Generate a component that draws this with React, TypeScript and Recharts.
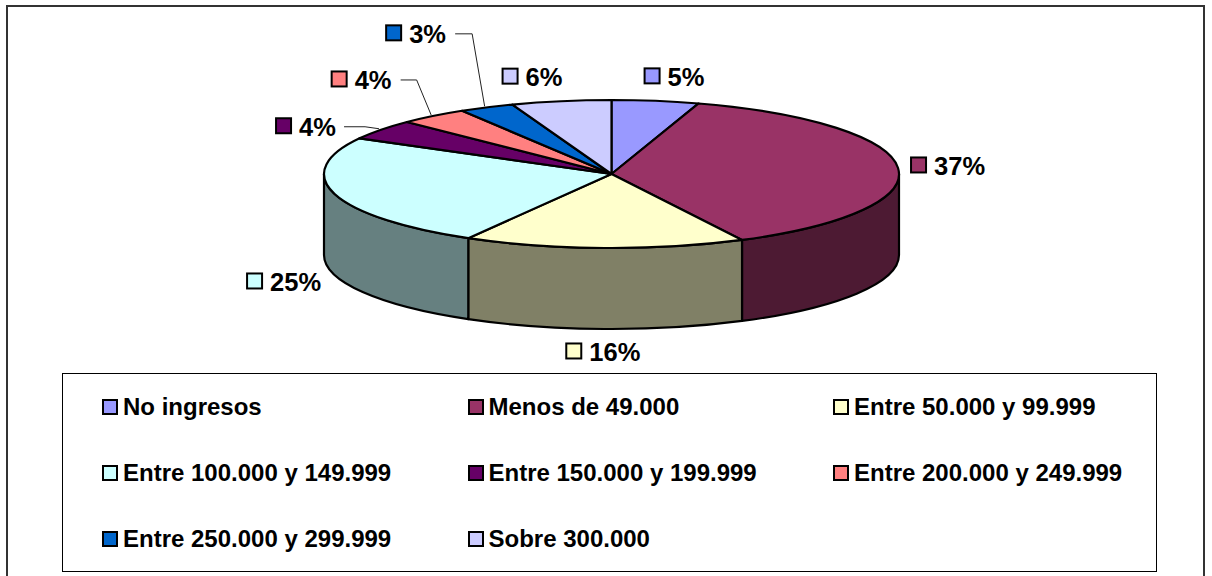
import React from "react";
import { PieChart, Pie, Legend } from "recharts";

const categories = ["No ingresos", "Menos de 49.000", "Entre 50.000 y 99.999", "Entre 100.000 y 149.999", "Entre 150.000 y 199.999", "Entre 200.000 y 249.999", "Entre 250.000 y 299.999", "Sobre 300.000"];
const shares = [4.9, 37.6, 15.8, 24.7, 4.4, 3.9, 3.1, 5.6];
const shareLabels = ["5%", "37%", "16%", "25%", "4%", "4%", "3%", "6%"];
const faceColors = ["#9999FF", "#993366", "#FFFFCC", "#CCFFFF", "#660066", "#FF8080", "#0066CC", "#CCCCFF"];
const wallColors = ["#4D4D80", "#4D1A33", "#808066", "#668080", "#330033", "#804040", "#003366", "#666680"];

const W = 1212, H = 576;
const CX = 611.5, CY = 174, RX = 287.5, RY = 74, DEPTH = 81;
const FONT = "'Liberation Sans', Arial, sans-serif";
const STROKE = 2.2;

const faceData = categories.map((name, i) => ({ name, value: shares[i], fill: faceColors[i] }));
const wallData = categories.map((name, i) => ({ name, value: shares[i], fill: wallColors[i] }));

// label offset from the slice's rim mid-point: [dx, dy]
const labelOffsets = [[-12, -25], [12, -3], [-39, 103], [-88.6, 87], [-106, -4], [-102.5, -37], [-101.5, -74.5], [-59.6, -25]];
// leader line elbows relative to the label marker's left/centre: [startDx, elbowDx] or null
const leaders: (number[] | null)[] = [null, null, null, null, [69, 90], [70, 86], [70, 87], null];

const pt = (a: number, cx: number, cy: number, rx: number) => {
  const r = (a * Math.PI) / 180;
  return [cx + rx * Math.cos(r), cy - (rx * RY / RX) * Math.sin(r)];
};

const FaceShape = (p: any) => {
  const rx = p.outerRadius, ry = rx * RY / RX;
  const [x1, y1] = pt(p.startAngle, p.cx, p.cy, rx);
  const [x2, y2] = pt(p.endAngle, p.cx, p.cy, rx);
  const large = Math.abs(p.startAngle - p.endAngle) > 180 ? 1 : 0;
  return (
    <path
      d={`M${p.cx},${p.cy}L${x1},${y1}A${rx},${ry} 0 ${large} 1 ${x2},${y2}Z`}
      fill={p.fill}
      stroke="#000"
      strokeWidth={STROKE}
      strokeLinejoin="round"
    />
  );
};

const WallShape = (p: any) => {
  const rx = p.outerRadius, ry = rx * RY / RX;
  const s = Math.min(p.startAngle, 0);
  const e = Math.max(p.endAngle, -180);
  if (s <= e) return <g />;
  const [x1, y1] = pt(s, p.cx, p.cy, rx);
  const [x2, y2] = pt(e, p.cx, p.cy, rx);
  return (
    <path
      d={`M${x1},${y1}A${rx},${ry} 0 0 1 ${x2},${y2}L${x2},${y2 + DEPTH}A${rx},${ry} 0 0 0 ${x1},${y1 + DEPTH}Z`}
      fill={p.fill}
      stroke="#000"
      strokeWidth={STROKE}
      strokeLinejoin="round"
    />
  );
};

const SliceLabel = (p: any) => {
  const i = p.index;
  const [ax, ay] = pt(p.midAngle, p.cx, p.cy, p.outerRadius);
  const x = ax + labelOffsets[i][0];
  const y = ay + labelOffsets[i][1];
  const l = leaders[i];
  return (
    <g>
      {l && (
        <polyline
          points={`${x + l[0]},${y + 1} ${x + l[1]},${y + 1} ${ax - 2},${ay - 1}`}
          fill="none"
          stroke="#222"
          strokeWidth={1}
        />
      )}
      <rect x={x + 1} y={y - 7.5} width={15} height={15} fill={faceColors[i]} stroke="#000" strokeWidth={2} />
      <text x={x + 24} y={y + 10} fontFamily={FONT} fontWeight="bold" fontSize={25.5} fill="#000">
        {shareLabels[i]}
      </text>
    </g>
  );
};

const LegendBox = (props: any) => {
  const items = (props.payload || []).filter((e: any) => e.type !== "none");
  return (
    <div style={{ position: "relative", width: 1095, height: 199, boxSizing: "border-box", border: "1px solid #000", background: "#fff", fontFamily: FONT, fontWeight: "bold", fontSize: 24, color: "#000" }}>
      {items.map((e: any, i: number) => (
        <div key={e.value} style={{ position: "absolute", left: 38 + 365.5 * (i % 3), top: 21 + 66 * Math.floor(i / 3), height: 24, lineHeight: "24px", whiteSpace: "nowrap" }}>
          <span style={{ position: "absolute", left: 1, top: 4, width: 12, height: 12, border: "2px solid #000", background: e.color, boxSizing: "content-box" }} />
          <span style={{ position: "absolute", left: 22, top: 0 }}>{e.value}</span>
        </div>
      ))}
    </div>
  );
};

export default function App() {
  return (
    <div style={{ position: "absolute", left: 0, top: 0, width: W, height: H, overflow: "hidden", background: "#fff" }}>
      <div style={{ position: "absolute", left: 6, top: 5, width: 1199, height: 590, boxSizing: "border-box", border: "2px solid #333" }} />
      <PieChart width={W} height={H} margin={{ top: 0, right: 0, bottom: 0, left: 0 }} style={{ position: "absolute", left: 0, top: 0 }}>
        <Pie
          data={wallData}
          dataKey="value"
          nameKey="name"
          cx={CX}
          cy={CY}
          outerRadius={RX}
          startAngle={90}
          endAngle={-270}
          shape={WallShape}
          legendType="none"
          isAnimationActive={false}
          label={false}
          labelLine={false}
        />
        <Pie
          data={faceData}
          dataKey="value"
          nameKey="name"
          cx={CX}
          cy={CY}
          outerRadius={RX}
          startAngle={90}
          endAngle={-270}
          shape={FaceShape}
          legendType="square"
          isAnimationActive={false}
          label={SliceLabel}
          labelLine={false}
        />
        <Legend
          content={LegendBox}
          layout="horizontal"
          align="center"
          verticalAlign="bottom"
          itemSorter={null}
          wrapperStyle={{ left: 62, top: 373, bottom: "auto", width: 1095, height: 199 }}
        />
      </PieChart>
    </div>
  );
}
